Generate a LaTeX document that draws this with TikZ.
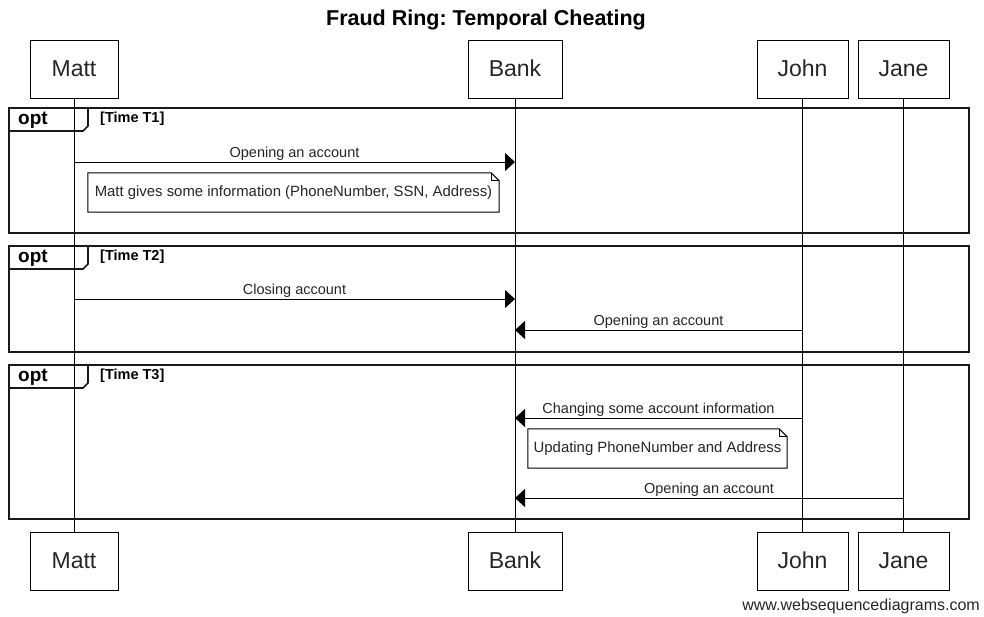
\documentclass[tikz,border=0pt]{standalone}
\usepackage{fontspec}
\setmainfont{Liberation Sans}
\usetikzlibrary{arrows.meta,calc}
\frenchspacing
\begin{document}
\begin{tikzpicture}[x=1pt,y=-1pt,
  actor/.style={draw, line width=1pt, minimum height=58pt, inner sep=0pt, text height=17pt, text depth=3pt, font=\fontsize{23}{27}\selectfont, text=black!85},
  life/.style={line width=1pt},
  frame/.style={line width=2pt, black!90},
  tab/.style={line width=1.6pt, black!90},
  msg/.style={line width=1pt, -{Triangle[length=10pt,width=18pt]}},
  mlabel/.style={font=\fontsize{14.5}{17}\selectfont, text=black!85, inner sep=0pt, above=1pt, midway},
  notebox/.style={inner sep=0pt, font=\fontsize{14.9}{17}\selectfont, text=black!85},
  optlabel/.style={font=\bfseries\fontsize{19}{22}\selectfont, anchor=west, inner sep=0pt},
  guard/.style={font=\bfseries\fontsize{14.5}{17}\selectfont, anchor=west, inner sep=0pt},
]
\useasboundingbox (0,0) rectangle (984,616);

% title
\node[font=\bfseries\fontsize{21.5}{25}\selectfont, inner sep=0pt] (title) at (486,20) {Fraud Ring: Temporal Cheating};

% actors top
\node[actor, minimum width=88pt] (mattT) at (74,69) {Matt};
\node[actor, minimum width=94pt] (bankT) at (515,69) {Bank};
\node[actor, minimum width=91pt] (johnT) at (802.5,69) {John};
\node[actor, minimum width=91pt] (janeT) at (903.5,69) {Jane};
% actors bottom
\node[actor, minimum width=88pt] (mattB) at (74,561) {Matt};
\node[actor, minimum width=94pt] (bankB) at (515,561) {Bank};
\node[actor, minimum width=91pt] (johnB) at (802.5,561) {John};
\node[actor, minimum width=91pt] (janeB) at (903.5,561) {Jane};

% lifelines
\draw[life] (mattT.south) -- (mattB.north);
\draw[life] (bankT.south) -- (bankB.north);
\draw[life] ([xshift=-0.5pt]johnT.south) -- ([xshift=-0.5pt]johnB.north);
\draw[life] ([xshift=-0.5pt]janeT.south) -- ([xshift=-0.5pt]janeB.north);

% frames
\draw[frame] (9,108) rectangle (969,233);
\draw[tab] (9,131) -- (83,131) -- (88,126) -- (88,108);
\node[optlabel] (opt1) at (18,120) {opt};
\node[guard] (g1) at (100,119) {[Time T1]};

\draw[frame] (9,246) rectangle (969,352);
\draw[tab] (9,269) -- (83,269) -- (88,264) -- (88,246);
\node[optlabel] (opt2) at (18,258) {opt};
\node[guard] (g2) at (100,257) {[Time T2]};

\draw[frame] (9,365) rectangle (969,519);
\draw[tab] (9,388) -- (83,388) -- (88,383) -- (88,365);
\node[optlabel] (opt3) at (18,377) {opt};
\node[guard] (g3) at (100,376) {[Time T3]};

% message end points on lifelines
\coordinate (m1s) at (74,162);  \coordinate (m1e) at (515,162);
\coordinate (m2s) at (74,299);  \coordinate (m2e) at (515,299);
\coordinate (m3s) at (802,330); \coordinate (m3e) at (515,330);
\coordinate (m4s) at (802,418); \coordinate (m4e) at (515,418);
\coordinate (m5s) at (903,498); \coordinate (m5e) at (515,498);

\draw[msg] (m1s) -- node[mlabel] {Opening an account} (m1e);
\draw[msg] (m2s) -- node[mlabel] {Closing account} (m2e);
\draw[msg] (m3s) -- node[mlabel] {Opening an account} (m3e);
\draw[msg] (m4s) -- node[mlabel] {Changing some account information} (m4e);
\draw[msg] (m5s) -- node[mlabel] {Opening an account} (m5e);

% notes
\node[notebox, minimum width=411pt, minimum height=39pt] (n1) at (293.5,192.5) {Matt gives some information (PhoneNumber, SSN, Address)};
\draw[line width=1pt] (n1.north west) -- ($(n1.north east)+(-8,0)$) -- ($(n1.north east)+(0,8)$) -- (n1.south east) -- (n1.south west) -- cycle;
\draw[line width=0.8pt] ($(n1.north east)+(-8,0)$) -- ($(n1.north east)+(-8,8)$) -- ($(n1.north east)+(0,8)$);

\node[notebox, minimum width=259pt, minimum height=39pt] (n2) at (657.5,448.5) {Updating PhoneNumber and Address};
\draw[line width=1pt] (n2.north west) -- ($(n2.north east)+(-8,0)$) -- ($(n2.north east)+(0,8)$) -- (n2.south east) -- (n2.south west) -- cycle;
\draw[line width=0.8pt] ($(n2.north east)+(-8,0)$) -- ($(n2.north east)+(-8,8)$) -- ($(n2.north east)+(0,8)$);

% watermark
\node[font=\fontsize{16}{19}\selectfont, anchor=east, inner sep=0pt, text=black!85] (wsd) at (980,606) {www.websequencediagrams.com};
\end{tikzpicture}
\end{document}
